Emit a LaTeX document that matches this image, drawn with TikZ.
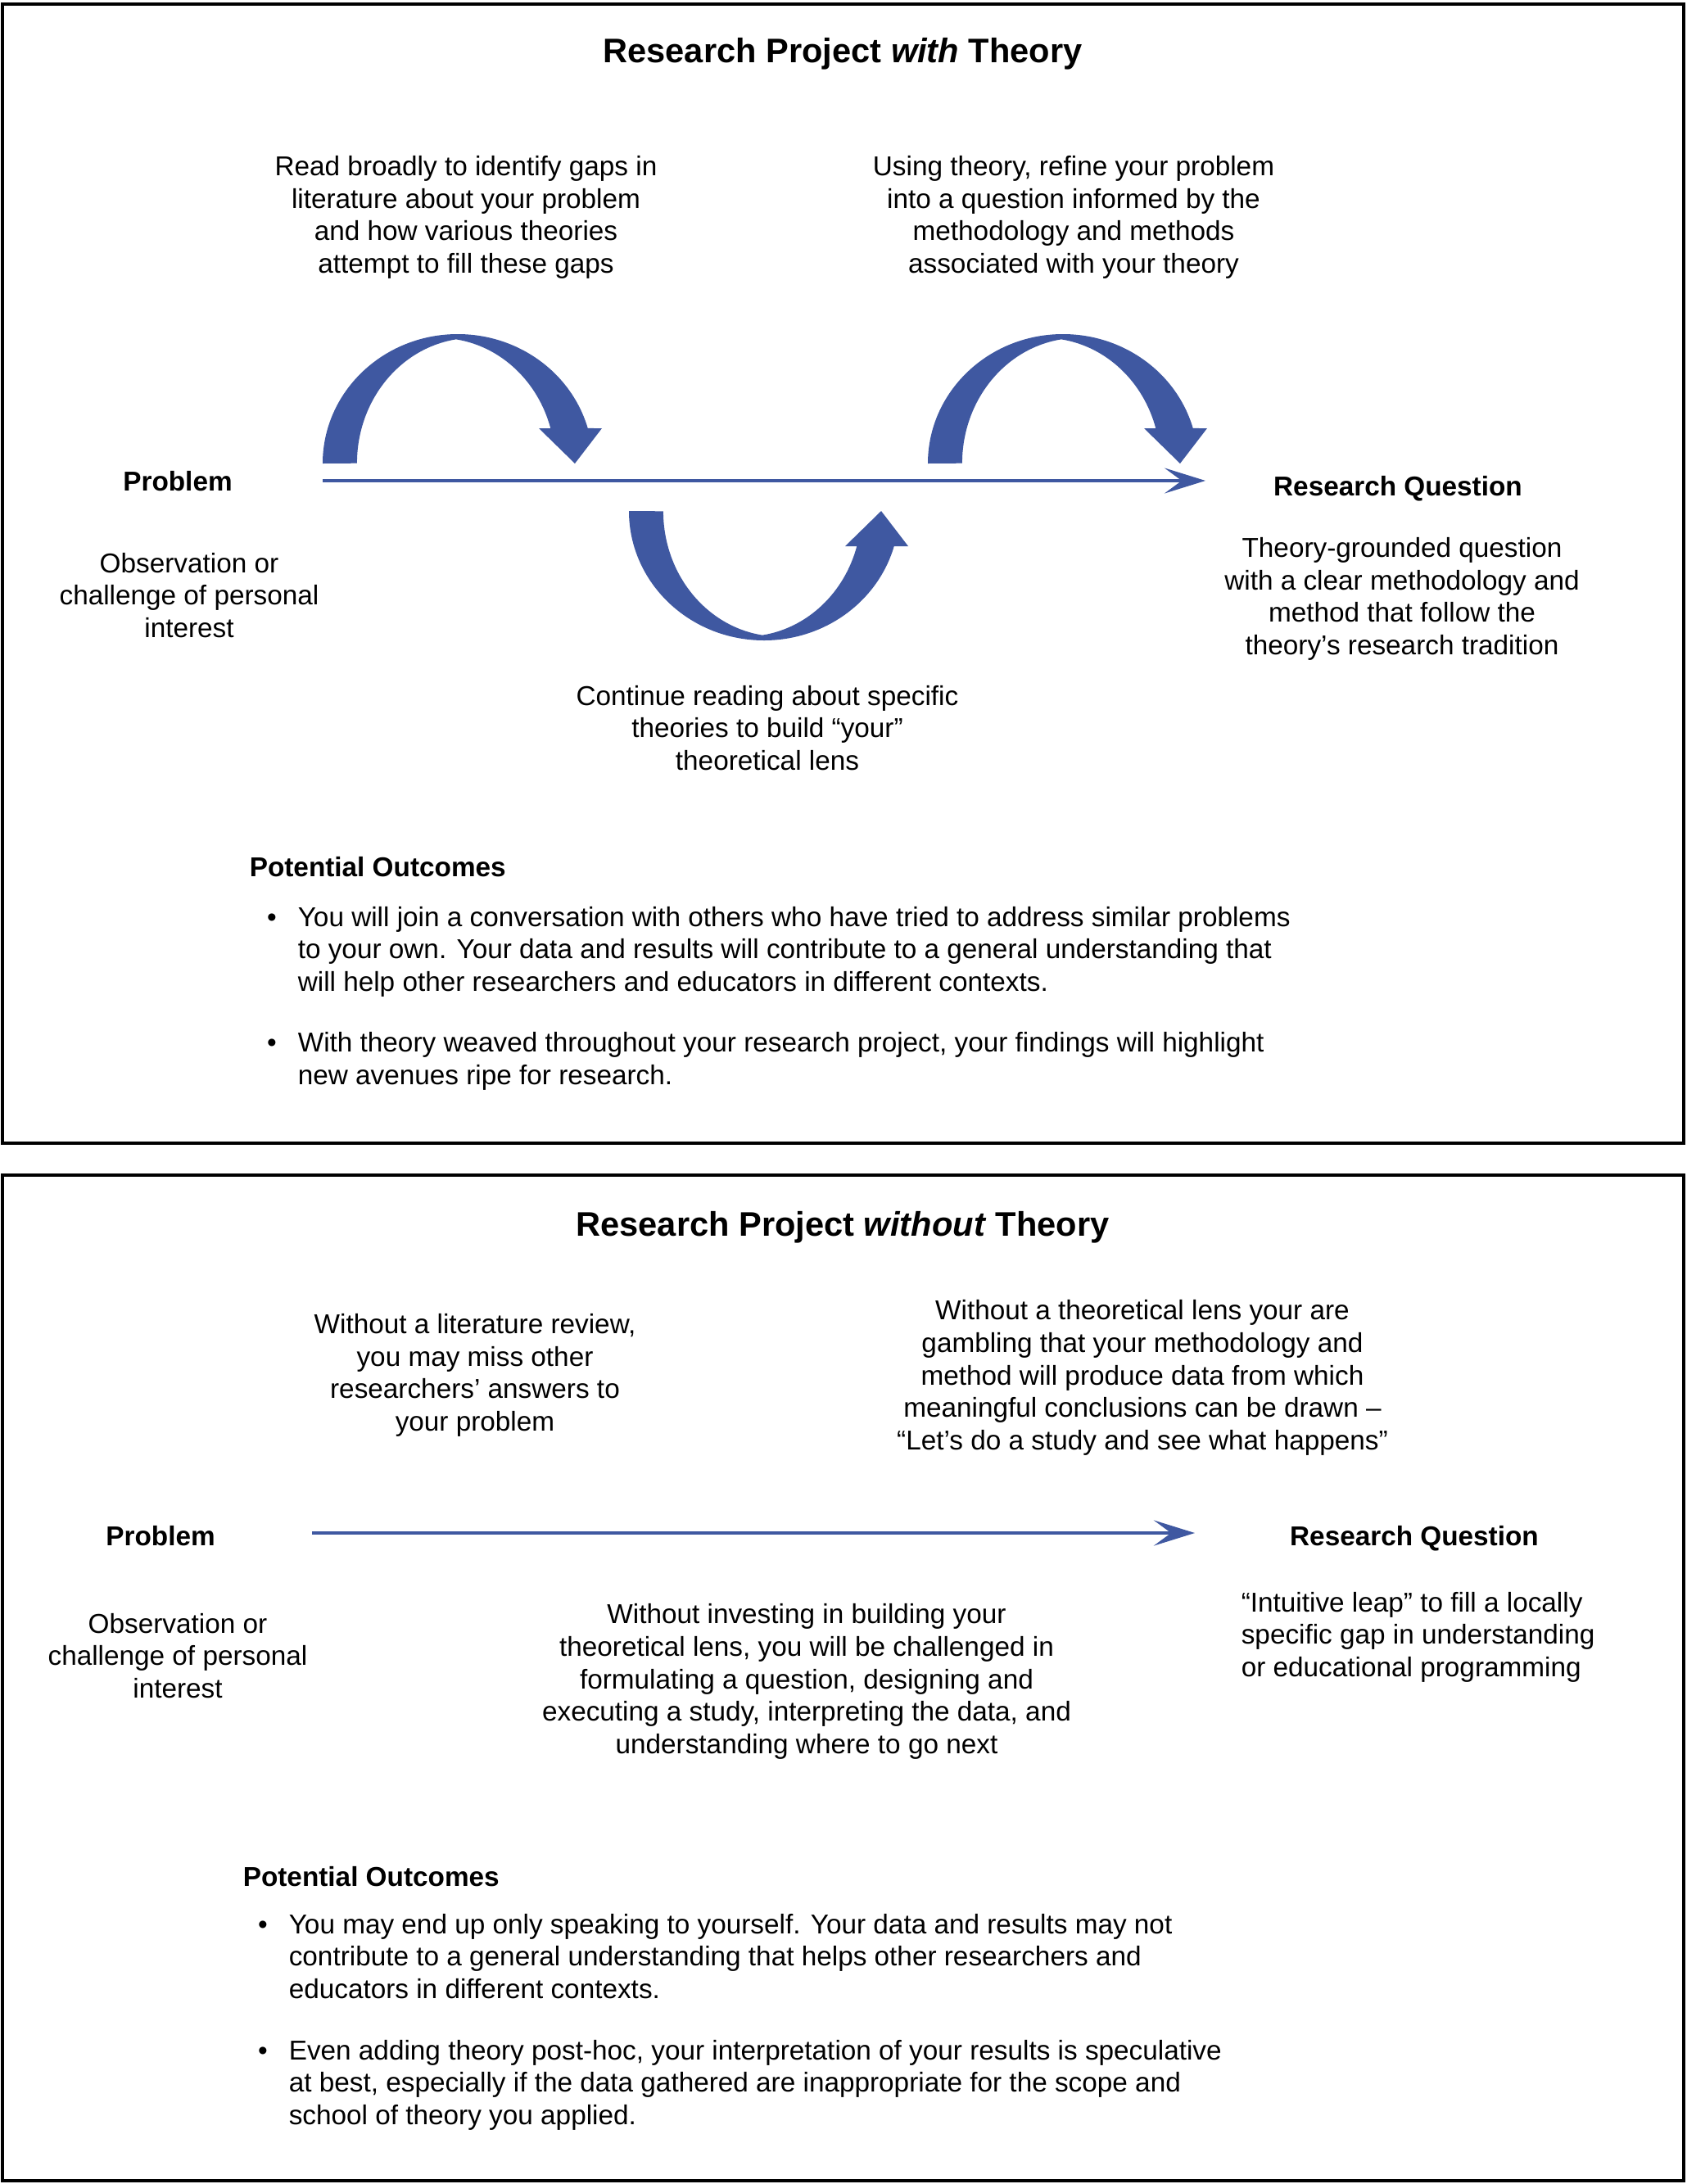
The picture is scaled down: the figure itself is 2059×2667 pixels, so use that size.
\documentclass[tikz,border=0pt]{standalone}
\usepackage{fontspec}
\setmainfont{Liberation Sans}
\usetikzlibrary{arrows.meta}
\definecolor{arcblue}{RGB}{63,88,161}
\tikzset{
  frame/.style={draw=black, line width=1pt},
  txt/.style={font=\fontsize{8.33}{9.93}\selectfont, inner sep=0pt, align=center, anchor=base},
  ltxt/.style={font=\fontsize{8.33}{9.93}\selectfont, inner sep=0pt, align=left, anchor=base west},
  lbl/.style={font=\fontsize{8.33}{9.93}\selectfont\bfseries, inner sep=0pt, anchor=base},
  ttl/.style={font=\fontsize{10.4}{12}\selectfont\bfseries, inner sep=0pt, anchor=base},
  flowline/.style={draw=arcblue, line width=1.05pt, -{Stealth[length=12.5pt,width=7.75pt,inset=5.25pt]}},
  bluearc/.pic={
    \fill[arcblue] (0,0)
      arc[start angle=180,end angle=344.2,x radius=165,y radius=158]
      -- (341,-43) -- (308,0) -- (264,-43) -- (278.3,-43)
      arc[start angle=343.8,end angle=278.5,x radius=142,y radius=153]
      arc[start angle=261.5,end angle=180,x radius=142,y radius=153]
      -- cycle;
  }
}
\begin{document}
\begin{tikzpicture}[x=0.25pt,y=-0.25pt]
\useasboundingbox (0,0) rectangle (2059,2667);
\fill[white] (0,0) rectangle (2059,2667);

% ---------- frames ----------
\draw[frame] (3,5) rectangle (2056,1396);
\draw[frame] (3,1435) rectangle (2056,2663);

% ---------- top panel shapes ----------
\pic at (394,566) {bluearc};
\pic at (1133,566) {bluearc};
\pic[yscale=-1] at (768,624) {bluearc};

\coordinate (l1s) at (394,587);
\coordinate (l1e) at (1472,587);
\draw[flowline] (l1s) -- (l1e);

% ---------- bottom panel shapes ----------
\coordinate (l2s) at (381,1872);
\coordinate (l2e) at (1459,1872);
\draw[flowline, line width=1.2pt] (l2s) -- (l2e);

\begin{scope}[shift={(0,3.5)}]
% ---------- top panel texts ----------
\node[ttl] (t1) at (1029,73) {Research Project \textit{with} Theory};

\node[txt] (ta) at (569,330) {Read broadly to identify gaps in\\literature about your problem\\and how various theories\\attempt to fill these gaps};
\node[txt] (tb) at (1311,330) {Using theory, refine your problem\\into a question informed by the\\methodology and methods\\associated with your theory};

\node[lbl] (p1) at (217,596) {Problem};
\node[txt] (o1) at (231,775) {Observation or\\challenge of personal\\interest};
\node[lbl] (r1) at (1707,602) {Research Question};
\node[txt] (q1) at (1712,796) {Theory-grounded question\\with a clear methodology and\\method that follow the\\theory’s research tradition};
\node[txt] (c1) at (937,937) {Continue reading about specific\\theories to build “your”\\theoretical lens};

\node[lbl, anchor=base west] (po1) at (304,1067) {Potential Outcomes};
\node[txt] (bu1) at (332,1128) {•};
\node[ltxt] (bt1) at (363,1207) {You will join a conversation with others who have tried to address similar problems\\to your own. Your data and results will contribute to a general understanding that\\will help other researchers and educators in different contexts.};
\node[txt] (bu2) at (332,1281) {•};
\node[ltxt] (bt2) at (363,1321) {With theory weaved throughout your research project, your findings will highlight\\new avenues ripe for research.};

% ---------- bottom panel texts ----------
\node[ttl] (t2) at (1029,1506) {Research Project \textit{without} Theory};

\node[txt] (tc) at (580,1744) {Without a literature review,\\you may miss other\\researchers’ answers to\\your problem};
\node[txt] (td) at (1395,1767) {Without a theoretical lens your are\\gambling that your methodology and\\method will produce data from which\\meaningful conclusions can be drawn –\\“Let’s do a study and see what happens”};

\node[lbl] (p2) at (196,1884) {Problem};
\node[lbl] (r2) at (1727,1884) {Research Question};

\node[txt] (o2) at (217,2070) {Observation or\\challenge of personal\\interest};
\node[txt] (te) at (985,2138) {Without investing in building your\\theoretical lens, you will be challenged in\\formulating a question, designing and\\executing a study, interpreting the data, and\\understanding where to go next};
\node[ltxt] (tf) at (1515,2044) {“Intuitive leap” to fill a locally\\specific gap in understanding\\or educational programming};

\node[lbl, anchor=base west] (po2) at (296,2300) {Potential Outcomes};
\node[txt] (bu3) at (321,2358) {•};
\node[ltxt] (bt3) at (352,2437) {You may end up only speaking to yourself. Your data and results may not\\contribute to a general understanding that helps other researchers and\\educators in different contexts.};
\node[txt] (bu4) at (321,2512) {•};
\node[ltxt] (bt4) at (352,2591) {Even adding theory post-hoc, your interpretation of your results is speculative\\at best, especially if the data gathered are inappropriate for the scope and\\school of theory you applied.};
\end{scope}
\end{tikzpicture}
\end{document}
